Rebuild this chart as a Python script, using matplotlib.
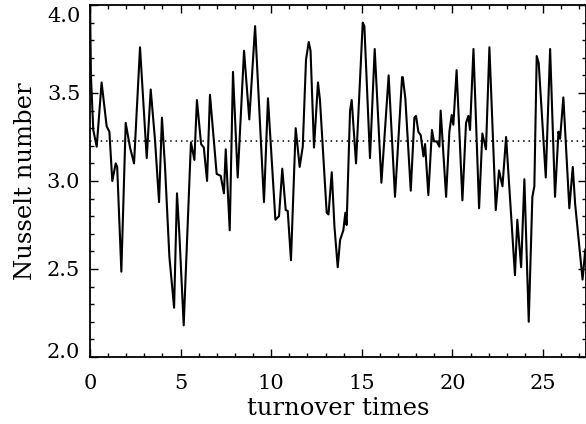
import matplotlib
matplotlib.use("Agg")
import matplotlib.pyplot as plt
from matplotlib.ticker import MultipleLocator, FixedLocator, FormatStrFormatter
from matplotlib.transforms import ScaledTranslation

# Data
turnover_times = [0.0, 0.05, 0.18, 0.37, 0.64, 0.92, 1.07, 1.23, 1.42, 1.5, 1.73, 1.97, 2.21, 2.43,
                  2.76, 3.13, 3.35, 3.59, 3.81, 3.97, 4.14, 4.38, 4.64, 4.80, 4.93, 5.17, 5.57,
                  5.76, 5.90, 6.13, 6.28, 6.46, 6.62, 6.99, 7.21, 7.39, 7.49, 7.71, 7.89, 8.15,
                  8.50, 8.79, 9.11, 9.60, 9.82, 10.23, 10.43, 10.61, 10.80, 10.91, 11.09, 11.35,
                  11.57, 11.74, 11.92, 12.07, 12.17, 12.36, 12.58, 12.69, 13.06, 13.16, 13.34,
                  13.49, 13.67, 13.80, 13.98, 14.09, 14.16, 14.35, 14.44, 14.68, 14.86, 15.05,
                  15.14, 15.45, 15.71, 16.08, 16.48, 16.83, 17.22, 17.26, 17.40, 17.70, 17.90,
                  17.99, 18.12, 18.25, 18.40, 18.49, 18.67, 18.87, 18.98, 19.13, 19.28, 19.35,
                  19.65, 19.83, 19.96, 20.05, 20.23, 20.55, 20.75, 20.88, 20.97, 21.16, 21.47,
                  21.65, 21.85, 22.04, 22.39, 22.57, 22.76, 22.96, 23.45, 23.58, 23.79, 23.97,
                  24.21, 24.41, 24.52, 24.65, 24.76, 25.15, 25.39, 25.66, 25.85, 25.94, 26.12,
                  26.45, 26.64, 26.77, 27.18, 27.33]
nusselt = [4.05, 3.6, 3.29, 3.195, 3.56, 3.31, 3.28, 3.00, 3.10, 3.08, 2.485, 3.33, 3.19, 3.10,
           3.76, 3.13, 3.52, 3.23, 2.88, 3.36, 3.08, 2.57, 2.28, 2.93, 2.70, 2.18, 3.22,
           3.12, 3.46, 3.21, 3.19, 3.00, 3.49, 3.04, 3.03, 2.93, 3.18, 2.72, 3.62, 3.02,
           3.74, 3.35, 3.88, 2.88, 3.47, 2.78, 2.80, 3.07, 2.835, 2.83, 2.55, 3.30,
           3.08, 3.195, 3.69, 3.79, 3.74, 3.19, 3.56, 3.46, 2.82, 2.81, 3.05,
           2.74, 2.51, 2.665, 2.72, 2.82, 2.75, 3.40, 3.46, 3.10, 3.49, 3.90,
           3.88, 3.13, 3.75, 2.99, 3.60, 2.91, 3.59, 3.59, 3.47, 2.945, 3.36,
           3.37, 3.28, 3.26, 3.14, 3.21, 2.92, 3.29, 3.225, 3.225, 3.195, 3.40,
           2.91, 3.28, 3.375, 3.32, 3.63, 2.89, 3.33, 3.37, 3.29, 3.75, 2.845,
           3.27, 3.18, 3.76, 2.835, 3.06, 2.97, 3.25, 2.465, 2.78, 2.51, 3.01,
           2.20, 2.91, 2.97, 3.71, 3.67, 3.02, 3.75, 2.91, 3.28, 3.24, 3.475,
           2.845, 3.08, 2.87, 2.44, 2.61]
mean_nusselt = 3.225
y_ticks = [2.0, 2.5, 3.0, 3.5, 4.0]

plt.rcParams['font.family'] = ['DejaVu Serif']

fig = plt.figure(figsize=(5.86, 4.24), dpi=100)
ax = fig.add_axes([90/586, (424-357)/424, 496/586, 352/424])

ax.plot(turnover_times, nusselt, color='black', lw=1.5)
ax.axhline(mean_nusselt, color='black', lw=1.1, ls=(0, (1, 2.5)))

ax.set_xlim(0, 27.37)
ax.set_ylim(2.0, 4.0)
ax.xaxis.set_major_locator(MultipleLocator(5))
ax.xaxis.set_minor_locator(MultipleLocator(1))
ax.yaxis.set_major_locator(FixedLocator(y_ticks))
ax.yaxis.set_minor_locator(MultipleLocator(0.1))
ax.yaxis.set_major_formatter(FormatStrFormatter('%.1f'))
ax.tick_params(which='both', direction='in', top=True, right=True, labelsize=15, width=1)
ax.tick_params(which='major', length=6)
ax.tick_params(which='minor', length=3)
ax.tick_params(axis='x', which='major', pad=12)
ax.tick_params(axis='y', which='major', pad=7)
for s in ax.spines.values():
    s.set_linewidth(1.3)

# IDL-style: end labels pulled inside the axis range
yt = ax.yaxis.get_major_ticks()
yt[0].label1.set_transform(yt[0].label1.get_transform() + ScaledTranslation(0, 7/100, fig.dpi_scale_trans))
yt[-1].label1.set_transform(yt[-1].label1.get_transform() + ScaledTranslation(0, -9/100, fig.dpi_scale_trans))

ax.set_xlabel('turnover times', fontsize=17.5, labelpad=3)
ax.set_ylabel('Nusselt number', fontsize=17.5, labelpad=7)

fig.savefig('out.png', dpi=100)
